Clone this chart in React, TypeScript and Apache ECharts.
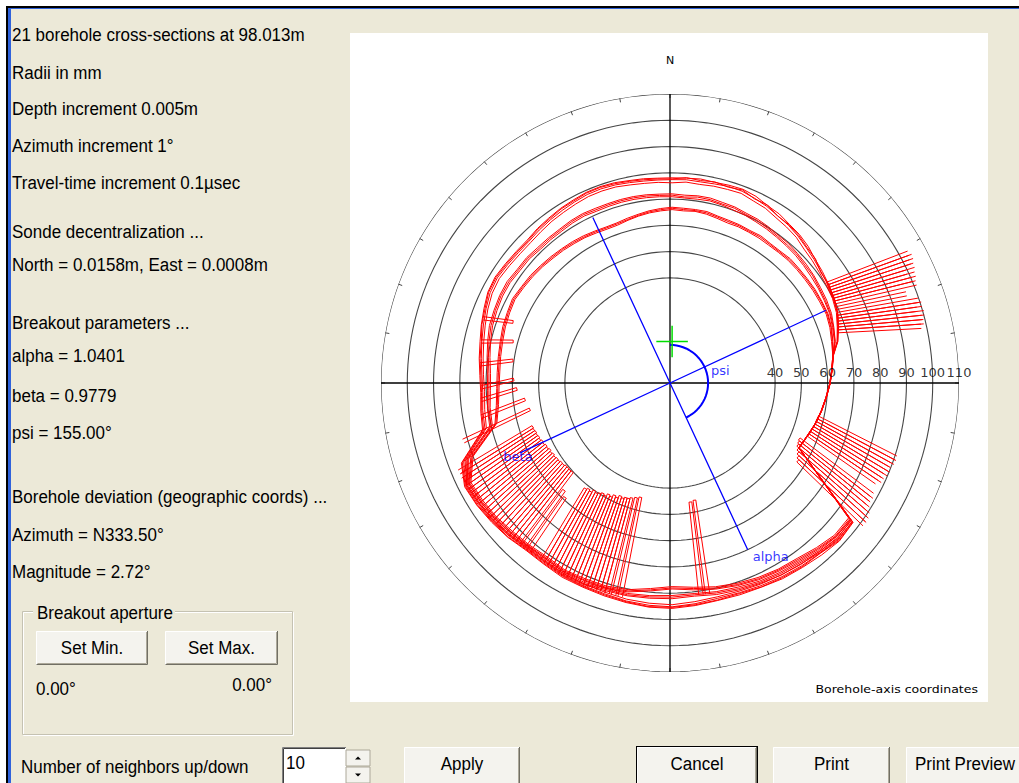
import React, { useEffect, useRef } from "react";
import * as echarts from "echarts";

// ---------------- data ----------------
// azimuths (deg, clockwise from N) of the cross-section samples
const AZIMUTHS = [
  0, 5, 10, 15, 20, 25, 30, 35, 40, 45, 50, 55, 60, 65, 70, 75, 80, 85,
  90, 95, 100, 105, 110, 115, 120, 125, 130, 135, 140, 145, 150, 155, 160, 165, 170, 175,
  180, 185, 190, 195, 200, 205, 210, 215, 220, 225, 230, 235, 240, 245, 250, 255, 260, 265,
  270, 275, 280, 285, 290, 295, 300, 305, 310, 315, 320, 325, 330, 335, 340, 345, 350, 355,
];
// ring radii (mm) and their labels
const RING_RADII = [40, 50, 60, 70, 80, 90, 100, 110];
const RADIUS_MAX = 110;
const AXIS_EXTENT = 115;

// sonde decentralization (mm)
const SONDE_NORTH_MM = 15.8;
const SONDE_EAST_MM = 0.8;

// cross-section radii (mm, measured from the sonde) at AZIMUTHS
const TRACE_OUT_A = [
  62.3, 62.4, 62.8, 62.7, 63.3, 63.9, 63.8, 63.2, 63.4, 63.1,
  63.3, 63.2, 62.8, 63.1, 63.4, 63.9, 64.0, 63.6, 63.1, 61.6,
  61.9, 62.3, 62.5, 62.8, 63.0, 62.9, 63.2, 97.4, 99.1, 99.2,
  99.3, 99.6, 99.5, 99.8, 100.1, 100.9, 101.6, 101.5, 100.9, 100.2,
  99.5, 99.0, 97.8, 97.0, 97.3, 97.2, 97.0, 96.4, 92.6, 79.6,
  77.5, 75.4, 74.3, 73.7, 73.1, 72.9, 72.7, 72.6, 71.7, 70.0,
  68.5, 67.3, 66.9, 66.4, 66.1, 65.7, 65.5, 65.0, 64.3, 63.4,
  62.9, 62.4,
];
const TRACE_OUT_B = [
  61.6, 61.8, 61.7, 62.1, 62.8, 63.1, 62.9, 62.8, 62.5, 62.6,
  62.5, 62.3, 62.4, 62.6, 63.1, 63.7, 63.8, 63.3, 62.9, 61.5,
  61.8, 62.2, 62.4, 62.7, 62.9, 62.8, 63.0, 96.9, 98.5, 98.3,
  98.6, 98.8, 98.9, 99.0, 99.3, 100.2, 101.0, 100.8, 100.3, 99.4,
  98.9, 98.3, 97.1, 96.4, 96.6, 96.7, 96.4, 95.8, 91.6, 78.6,
  76.7, 74.6, 73.5, 72.9, 72.4, 72.1, 71.9, 71.7, 70.8, 69.1,
  67.6, 66.5, 66.0, 65.5, 65.1, 64.8, 64.6, 64.1, 63.4, 62.6,
  62.0, 61.7,
];
const TRACE_OUT_C = [
  60.4, 60.9, 60.7, 61.2, 61.6, 62.2, 61.8, 61.9, 61.5, 61.6,
  61.7, 61.3, 61.6, 61.9, 62.5, 63.2, 63.5, 63.1, 62.8, 61.4,
  61.7, 62.1, 62.3, 62.6, 62.8, 62.7, 62.9, 96.2, 97.9, 97.6,
  98.0, 98.1, 98.3, 98.4, 98.7, 99.4, 100.2, 100.0, 99.6, 98.8,
  98.2, 97.6, 96.6, 95.9, 96.1, 96.2, 95.9, 95.4, 91.0, 78.0,
  75.9, 73.9, 72.9, 72.2, 71.7, 71.4, 71.2, 70.9, 70.0, 68.3,
  66.8, 65.7, 65.1, 64.7, 64.2, 63.9, 63.7, 63.2, 62.6, 61.7,
  61.1, 60.8,
];
const TRACE_OUT_D = [
  61.9, 62.6, 62.2, 62.9, 62.5, 63.6, 62.7, 63.4, 62.4, 62.9,
  62.9, 62.6, 63.0, 62.4, 63.5, 63.5, 63.9, 63.5, 63.0, 61.6,
  61.8, 62.2, 62.5, 62.7, 62.9, 62.8, 63.1, 97.2, 98.9, 98.4,
  99.0, 99.2, 99.4, 99.3, 99.9, 100.6, 101.2, 101.3, 100.6, 99.8,
  99.2, 98.6, 97.5, 96.7, 97.1, 96.9, 96.8, 96.1, 92.2, 79.2,
  77.1, 75.1, 73.9, 73.4, 72.6, 72.7, 72.3, 72.3, 71.3, 69.6,
  68.1, 66.9, 66.6, 66.0, 65.8, 65.3, 65.2, 64.7, 63.9, 63.1,
  62.5, 62.1,
];
const TRACE_MID_A = [
  56.2, 55.9, 56.3, 56.5, 56.3, 56.5, 56.4, 56.8, 57.0, 57.2,
  57.9, 58.3, 58.9, 59.5, 60.1, 60.9, 61.6, 61.8, 62.1, 61.6,
  61.9, 62.2, 62.4, 62.7, 62.9, 62.8, 63.0, 97.0, 98.2, 98.1,
  97.8, 98.1, 98.0, 97.9, 97.8, 97.3, 97.9, 98.1, 98.3, 98.2,
  98.5, 98.0, 96.8, 96.1, 96.4, 96.4, 96.0, 95.5, 90.5, 76.6,
  74.8, 72.7, 71.4, 70.7, 70.2, 69.8, 68.8, 67.9, 66.8, 65.0,
  63.9, 62.4, 61.4, 60.5, 60.0, 59.4, 58.5, 57.9, 57.5, 57.1,
  56.7, 56.3,
];
const TRACE_MID_B = [
  55.1, 54.8, 55.0, 55.4, 55.3, 55.2, 55.5, 55.6, 55.9, 56.2,
  56.7, 57.3, 57.8, 58.4, 59.2, 60.0, 60.9, 61.3, 61.8, 61.4,
  61.7, 62.1, 62.3, 62.6, 62.8, 62.7, 62.9, 96.0, 97.1, 97.2,
  96.8, 97.0, 97.1, 96.8, 96.7, 96.3, 96.7, 97.1, 97.4, 97.2,
  97.6, 97.1, 95.8, 95.2, 95.4, 95.5, 95.1, 94.5, 89.4, 75.5,
  73.7, 71.6, 70.2, 69.6, 69.1, 68.6, 67.7, 66.8, 65.6, 63.9,
  62.8, 61.2, 60.3, 59.4, 58.9, 58.3, 57.3, 56.8, 56.4, 56.0,
  55.6, 55.3,
];
const TRACE_MID_C = [
  55.7, 55.2, 55.8, 55.9, 55.7, 56.0, 55.9, 56.3, 56.4, 56.7,
  57.2, 57.9, 58.3, 59.1, 59.6, 60.4, 61.2, 61.6, 62.0, 61.5,
  61.8, 62.2, 62.4, 62.7, 62.9, 62.8, 63.0, 96.5, 97.6, 97.7,
  97.3, 97.5, 97.6, 97.4, 97.2, 96.8, 97.3, 97.6, 97.9, 97.7,
  98.1, 97.5, 96.3, 95.6, 95.9, 95.9, 95.6, 95.0, 90.0, 76.0,
  74.2, 72.2, 70.8, 70.2, 69.7, 69.2, 68.3, 67.4, 66.2, 64.5,
  63.4, 61.8, 60.9, 60.0, 59.5, 58.9, 57.9, 57.4, 57.0, 56.6,
  56.2, 55.8,
];
const TRACE_IN_A = [
  51.1, 50.9, 51.0, 51.2, 50.8, 50.9, 51.3, 51.6, 52.5, 52.8,
  53.6, 54.9, 55.7, 56.7, 57.9, 59.0, 60.3, 60.9, 61.2, 61.5,
  61.8, 62.2, 62.4, 62.7, 62.9, 62.8, 63.0, 95.9, 97.0, 96.7,
  96.3, 96.4, 96.5, 96.2, 95.7, 94.9, 94.2, 95.3, 96.8, 97.3,
  97.0, 96.9, 95.7, 95.4, 95.3, 95.3, 95.0, 94.4, 88.5, 74.4,
  71.2, 69.1, 67.6, 66.4, 65.4, 64.7, 63.7, 62.9, 61.0, 59.5,
  57.8, 56.3, 54.9, 53.7, 52.5, 51.3, 50.3, 49.8, 49.9, 50.1,
  50.5, 50.8,
];
const TRACE_IN_B = [
  50.2, 49.9, 50.3, 50.2, 49.9, 49.8, 50.4, 50.8, 51.4, 51.9,
  52.8, 53.9, 54.8, 55.8, 57.0, 58.2, 59.6, 60.3, 60.7, 61.4,
  61.7, 62.1, 62.3, 62.6, 62.8, 62.7, 62.9, 95.0, 96.2, 95.8,
  95.3, 95.6, 95.6, 95.3, 94.8, 93.9, 93.3, 94.4, 95.9, 96.4,
  96.2, 96.1, 94.8, 94.6, 94.4, 94.5, 94.1, 93.5, 87.5, 73.6,
  70.3, 68.2, 66.6, 65.5, 64.5, 63.7, 62.8, 61.9, 60.1, 58.5,
  56.9, 55.3, 54.0, 52.7, 51.6, 50.4, 49.4, 48.9, 49.1, 49.4,
  49.7, 49.9,
];
const TRACE_IN_C = [
  50.7, 50.4, 50.6, 50.7, 50.4, 50.4, 50.9, 51.2, 52.0, 52.4,
  53.2, 54.4, 55.3, 56.3, 57.5, 58.7, 60.0, 60.7, 61.0, 61.5,
  61.8, 62.2, 62.4, 62.7, 62.9, 62.8, 63.0, 95.5, 96.7, 96.3,
  95.8, 96.0, 96.1, 95.8, 95.3, 94.4, 93.8, 94.9, 96.4, 96.9,
  96.7, 96.5, 95.3, 95.0, 94.9, 94.9, 94.6, 94.0, 88.0, 74.0,
  70.8, 68.7, 67.1, 66.0, 65.0, 64.2, 63.3, 62.4, 60.6, 59.0,
  57.4, 55.8, 54.5, 53.2, 52.0, 50.9, 49.9, 49.4, 49.4, 49.7,
  50.1, 50.35,
];
const TRACES = [
  TRACE_OUT_A, TRACE_OUT_B, TRACE_OUT_C, TRACE_OUT_D,
  TRACE_MID_A, TRACE_MID_B, TRACE_MID_C,
  TRACE_IN_A, TRACE_IN_B, TRACE_IN_C,
];

// breakout picks [azimuth deg, inner radius mm, outer radius mm] (from sonde)
const AZ_STEP = 1; // azimuth increment 1 deg
const SPIKES_NE = [
  [69, 63, 96], [70, 63, 97], [71, 63, 95.5], [72, 63.2, 96.5], [73, 63.3, 93], [74, 63.5, 96],
  [75, 63.6, 94.5], [76, 63.7, 95.5], [78, 63.9, 91], [80, 63.9, 95], [81, 63.8, 96], [82, 63.7, 94],
  [83, 63.6, 96.5], [84, 63.5, 95.5], [85, 63.4, 96], [86, 63.2, 95],
];
const SPIKES_SE = [
  [117, 62.5, 96], [118, 62.6, 96.5], [119, 62.7, 95.5], [120, 62.8, 96], [121, 62.9, 96.5],
  [122, 62.9, 95], [123, 63, 96], [124, 62.9, 94.5], [127, 61, 96], [128, 61.5, 97],
  [129, 62, 96.5], [130, 63, 98], [131, 64, 99.5], [132, 65, 100.5], [133, 66, 101],
];
const SPIKES_S = [[171.5, 61, 97], [173, 61.5, 97]];
const SPIKES_SW1 = [
  [191, 60.5, 99], [192.5, 61, 99], [194, 61.5, 99], [195, 62, 99], [196, 62, 98.5], [197, 62.5, 99],
  [198, 62, 98.5], [199, 63, 99], [200, 62.5, 98.5], [201, 63.5, 99], [202, 63, 98.5], [203, 64, 98.5],
  [204, 63.5, 98], [205, 64, 98.5], [206, 64.5, 98], [207, 64, 98], [208, 65, 97.5], [209, 64.5, 97.5],
  [210, 65, 97], [214, 72, 97], [215.5, 70, 97],
];
const SPIKES_SW2 = [
  [217, 62.5, 96.5], [218, 62.5, 96.5], [219, 62.3, 96.5], [220, 62.2, 96.5], [221, 62.5, 96.5],
  [222, 62.3, 96.5], [223, 62.6, 96.5], [224, 62.4, 96.5], [225, 62.6, 96.5], [226, 62.2, 96.5],
  [227, 62.5, 96.5], [228, 62, 96], [229, 62.4, 96], [230, 62.1, 96], [231, 62.5, 96],
  [232, 62.2, 95.5], [233, 62.6, 95.5], [234, 62.3, 95.5], [235, 62.5, 95.5], [236, 62.2, 95.5],
  [237, 62.4, 95], [238, 62.2, 95],
];
const SPIKES_W = [
  [244, 60, 88], [248, 60.2, 78], [252.5, 61.8, 76], [256, 62, 74.5], [262.7, 61, 73.5],
  [269.5, 60.5, 72.7], [276.5, 61, 72.4],
];
const SPIKES = [...SPIKES_NE, ...SPIKES_SE, ...SPIKES_S, ...SPIKES_SW1, ...SPIKES_SW2, ...SPIKES_W];

// breakout ellipse axes (borehole-axis coords)
const PSI = 155;
const ALPHA_ENDS = [69.5, 70]; // radius at psi+180, psi
const BETA_ENDS = [63, 65.5]; // radius at psi+90, psi-90
const PSI_ARC_R = 14.5;
const CROSS_ARM = 6;

// panel texts
const PANEL_TEXT = [
  "21 borehole cross-sections at 98.013m",
  "Radii in mm",
  "Depth increment 0.005m",
  "Azimuth increment 1°",
  "Travel-time increment 0.1µsec",
  "Sonde decentralization ...",
  "North = 0.0158m, East = 0.0008m",
  "Breakout parameters ...",
  "alpha = 1.0401",
  "beta = 0.9779",
  "psi = 155.00°",
  "Borehole deviation (geographic coords) ...",
  "Azimuth = N333.50°",
  "Magnitude = 2.72°",
];
const PANEL_Y = [35, 73, 109, 146, 183, 232, 265, 323, 356, 396, 433, 497, 535, 572];

// ---------------- layout ----------------
const CX = 670;
const CY = 383;
const R_PX = 289;
const PX_PER_MM = R_PX / RADIUS_MAX;
const SX = CX + SONDE_EAST_MM * PX_PER_MM;
const SY = CY - SONDE_NORTH_MM * PX_PER_MM;

const BREAK = ["-", "-"];
const UI_FONT = "Liberation Sans";
const CHART_FONT = "DejaVu Sans";

function txt(x: number, y: number, text: string, align = "left", extra: any = {}) {
  return {
    type: "text",
    x,
    y,
    scaleY: 1.12,
    ...extra,
    style: {
      text,
      fill: "#000",
      fontSize: 17,
      fontFamily: UI_FONT,
      textAlign: align,
      textVerticalAlign: "middle",
      ...(extra.style || {}),
    },
  };
}

function button(x: number, y: number, w: number, h: number, label: string, textY: number, isDefault = false) {
  const els: any[] = [];
  if (isDefault) {
    els.push({ type: "rect", shape: { x: x - 1, y: y - 1, width: w + 2, height: h + 2 }, style: { fill: "#000" } });
  }
  els.push({ type: "rect", shape: { x, y, width: w, height: h }, style: { fill: "#F4F3EE" } });
  els.push({
    type: "polyline",
    shape: { points: [[x + 0.5, y + h], [x + 0.5, y + 0.5], [x + w - 1, y + 0.5]] },
    style: { stroke: "#FFFFFF", fill: "none", lineWidth: 1 },
  });
  els.push({
    type: "polyline",
    shape: { points: [[x + 0.5, y + h - 0.5], [x + w - 0.5, y + h - 0.5], [x + w - 0.5, y]] },
    style: { stroke: "#716F64", fill: "none", lineWidth: 1 },
  });
  els.push({
    type: "polyline",
    shape: { points: [[x + 1.5, y + h - 1.5], [x + w - 1.5, y + h - 1.5], [x + w - 1.5, y + 1]] },
    style: { stroke: "#ACA899", fill: "none", lineWidth: 1 },
  });
  els.push(txt(x + w / 2, textY, label, "center"));
  return els;
}

function spinButton(x: number, y: number, w: number, h: number, up: boolean) {
  const cx = x + w / 2;
  const cy = y + h / 2;
  return [
    { type: "rect", shape: { x, y, width: w, height: h }, style: { fill: "#F4F3EE", stroke: "#ACA899", lineWidth: 1 } },
    {
      type: "polygon",
      shape: {
        points: up
          ? [[cx - 3, cy + 1.5], [cx + 3, cy + 1.5], [cx, cy - 1.5]]
          : [[cx - 3, cy - 1.5], [cx + 3, cy - 1.5], [cx, cy + 1.5]],
      },
      style: { fill: "#000" },
    },
  ];
}

function buildOption() {
  // rings
  const ringData: any[] = [];
  RING_RADII.forEach((r) => {
    for (let a = 0; a <= 360; a += 2) ringData.push([r, a]);
    ringData.push(BREAK);
  });
  // axes cross
  const axesData = [
    [AXIS_EXTENT, 0], [0, 0], [AXIS_EXTENT, 180], BREAK,
    [AXIS_EXTENT, 90], [0, 0], [AXIS_EXTENT, 270],
  ];
  // traces
  const traceSeries = TRACES.map((t, k) => ({
    type: "line",
    coordinateSystem: "polar",
    polarIndex: 1,
    name: "section" + k,
    data: AZIMUTHS.map((a, i) => [t[i], a]).concat([[t[0], 360]]),
    symbol: "none",
    silent: true,
    clip: false,
    lineStyle: { color: "#ff0000", width: 1 },
    z: 4,
  }));
  // breakout spikes
  const spikeData: any[] = [];
  SPIKES.forEach(([az, rIn, rOut]) => {
    spikeData.push([rOut, az], [rIn, az], [rIn, az + AZ_STEP], [rOut, az + AZ_STEP], BREAK);
  });
  // psi arc
  const arcData: any[] = [];
  for (let a = 0; a <= PSI; a += 5) arcData.push([PSI_ARC_R, a]);
  const blueLines = [
    [ALPHA_ENDS[0], PSI + 180], [0, 0], [ALPHA_ENDS[1], PSI], BREAK,
    [BETA_ENDS[0], PSI + 90], [0, 0], [BETA_ENDS[1], PSI - 90],
  ];
  const crossData = [
    [CROSS_ARM, 0], [0, 0], [CROSS_ARM, 180], BREAK,
    [CROSS_ARM, 90], [0, 0], [CROSS_ARM, 270],
  ];

  const hiddenRadius = (i: number) => ({
    polarIndex: i,
    type: "value",
    min: 0,
    max: RADIUS_MAX,
    axisLine: { show: false },
    axisTick: { show: false },
    axisLabel: { show: false },
    splitLine: { show: false },
  });
  const angle = (i: number, ticks: boolean) => ({
    polarIndex: i,
    type: "value",
    min: 0,
    max: 360,
    interval: 10,
    startAngle: 90,
    clockwise: true,
    axisLine: { show: false },
    axisTick: { show: ticks, inside: true, length: 4, lineStyle: { color: "#444", width: 1 } },
    axisLabel: { show: false },
    splitLine: { show: false },
  });

  const graphics: any[] = [
    { type: "rect", shape: { x: 0, y: 0, width: 1019, height: 783 }, style: { fill: "#ffffff" } },
    { type: "rect", shape: { x: 6, y: 6, width: 1013, height: 777 }, style: { fill: "#000000" } },
    { type: "rect", shape: { x: 8, y: 8, width: 1011, height: 775 }, style: { fill: "#2F62DB" } },
    { type: "rect", shape: { x: 11, y: 9, width: 1008, height: 774 }, style: { fill: "#ECE9D8" } },
    { type: "rect", shape: { x: 350, y: 33, width: 638, height: 669 }, style: { fill: "#ffffff" } },
  ];
  PANEL_TEXT.forEach((t, i) => graphics.push(txt(12, PANEL_Y[i], t)));

  // group box
  graphics.push(
    { type: "rect", shape: { x: 23.5, y: 612.5, width: 270, height: 123 }, style: { fill: "none", stroke: "#FFFFFF", lineWidth: 1 } },
    { type: "rect", shape: { x: 22.5, y: 611.5, width: 270, height: 123 }, style: { fill: "none", stroke: "#C5C2B2", lineWidth: 1 } },
    { type: "rect", shape: { x: 33, y: 603, width: 142, height: 20 }, style: { fill: "#ECE9D8" } },
    txt(37, 613, "Breakout aperture"),
  );
  graphics.push(...button(36, 631, 112, 34, "Set Min.", 648));
  graphics.push(...button(165, 631, 113, 34, "Set Max.", 648));
  graphics.push(txt(36, 689, "0.00°"), txt(272, 685, "0.00°", "right"));

  // bottom row
  graphics.push(txt(21, 767, "Number of neighbors up/down"));
  graphics.push(
    { type: "rect", shape: { x: 282, y: 747, width: 64, height: 40 }, style: { fill: "#FFFFFF" } },
    { type: "polyline", shape: { points: [[282.5, 787], [282.5, 747.5], [346, 747.5]] }, style: { stroke: "#808080", fill: "none", lineWidth: 1 } },
    { type: "polyline", shape: { points: [[283.5, 787], [283.5, 748.5], [345, 748.5]] }, style: { stroke: "#404040", fill: "none", lineWidth: 1 } },
    txt(286, 763, "10"),
  );
  graphics.push(...spinButton(346, 750, 24, 16, true));
  graphics.push(...spinButton(346, 767, 24, 16, false));
  graphics.push(...button(404, 747, 116, 40, "Apply", 764));
  graphics.push(...button(637, 747, 120, 40, "Cancel", 764, true));
  graphics.push(...button(773, 747, 117, 40, "Print", 764));
  graphics.push(...button(906, 747, 118, 40, "Print Preview", 764));

  // chart texts
  graphics.push(
    {
      type: "text",
      x: CX,
      y: 60,
      style: { text: "N", fill: "#000", fontSize: 11, fontFamily: CHART_FONT, textAlign: "center", textVerticalAlign: "middle" },
    },
    {
      type: "text",
      x: 978,
      y: 689,
      scaleX: 1.14,
      style: {
        text: "Borehole-axis coordinates",
        fill: "#000",
        fontSize: 11,
        fontFamily: CHART_FONT,
        textAlign: "right",
        textVerticalAlign: "middle",
      },
    },
  );

  return {
    animation: false,
    backgroundColor: "#ffffff",
    graphic: { elements: graphics },
    polar: [
      { center: [CX, CY], radius: R_PX },
      { center: [SX, SY], radius: R_PX },
    ],
    radiusAxis: [hiddenRadius(0), hiddenRadius(1)],
    angleAxis: [angle(0, true), angle(1, false)],
    series: [
      {
        type: "line",
        coordinateSystem: "polar",
        polarIndex: 0,
        data: ringData,
        symbol: "none",
        silent: true,
        clip: false,
        lineStyle: { color: "#464646", width: 1.1 },
        z: 2,
      },
      {
        type: "line",
        coordinateSystem: "polar",
        polarIndex: 0,
        data: axesData,
        symbol: "none",
        silent: true,
        clip: false,
        lineStyle: { color: "#000000", width: 1.3 },
        z: 3,
      },
      {
        type: "scatter",
        coordinateSystem: "polar",
        polarIndex: 0,
        data: RING_RADII.map((r) => [r, 90]),
        symbolSize: 0,
        silent: true,
        label: {
          show: true,
          position: "top",
          distance: 4,
          formatter: (p: any) => String(p.value[0]),
          color: "#000",
          fontSize: 13,
          fontFamily: CHART_FONT,
        },
        z: 6,
      },
      ...traceSeries,
      {
        type: "line",
        coordinateSystem: "polar",
        polarIndex: 1,
        data: spikeData,
        symbol: "none",
        silent: true,
        clip: false,
        lineStyle: { color: "#ff0000", width: 1 },
        z: 4,
      },
      {
        type: "line",
        coordinateSystem: "polar",
        polarIndex: 0,
        data: blueLines,
        symbol: "none",
        silent: true,
        clip: false,
        lineStyle: { color: "#0000ff", width: 1.3 },
        z: 5,
      },
      {
        type: "line",
        coordinateSystem: "polar",
        polarIndex: 0,
        data: arcData,
        symbol: "none",
        silent: true,
        clip: false,
        lineStyle: { color: "#0000ff", width: 2 },
        z: 5,
      },
      {
        type: "line",
        coordinateSystem: "polar",
        polarIndex: 1,
        data: crossData,
        symbol: "none",
        silent: true,
        clip: false,
        lineStyle: { color: "#00dd00", width: 1.5 },
        z: 6,
      },
      {
        type: "scatter",
        coordinateSystem: "polar",
        polarIndex: 0,
        symbolSize: 0,
        silent: true,
        data: [
          { value: [ALPHA_ENDS[1], PSI], name: "alpha", label: { position: "right", distance: 5, offset: [0, 7] } },
          { value: [BETA_ENDS[0], PSI + 90], name: "beta", label: { position: "inside", offset: [-2, 4] } },
          { value: [PSI_ARC_R, 90], name: "psi", label: { position: "right", distance: 3, offset: [0, -13] } },
        ],
        label: {
          show: true,
          formatter: (p: any) => p.name,
          color: "#0000ff",
          fontSize: 13,
          fontFamily: CHART_FONT,
        },
        z: 7,
      },
    ],
  };
}

export default function App() {
  const ref = useRef<HTMLDivElement>(null);
  useEffect(() => {
    if (!ref.current) return;
    const chart = echarts.init(ref.current, null, { renderer: "svg" });
    chart.setOption(buildOption() as any);
    return () => chart.dispose();
  }, []);
  return (
    <div
      ref={ref}
      style={{ position: "absolute", left: 0, top: 0, width: 1019, height: 783 }}
    />
  );
}
